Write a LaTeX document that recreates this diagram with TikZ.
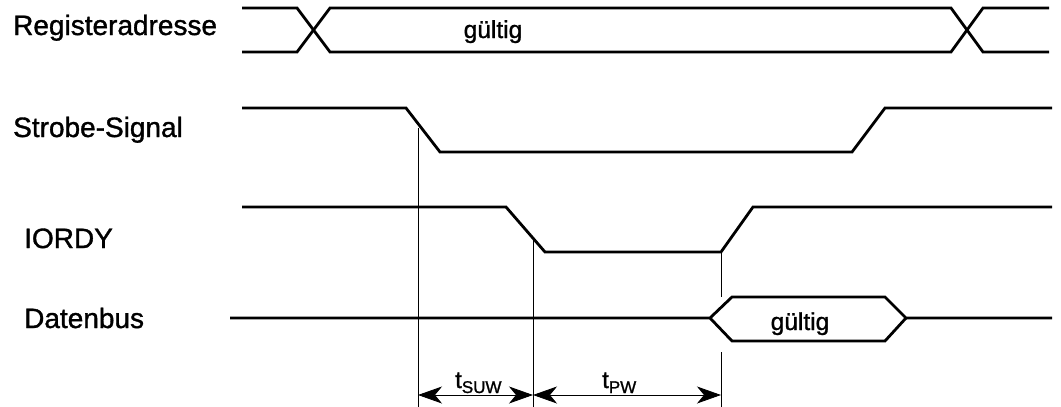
\documentclass[tikz,border=0pt]{standalone}
\usepackage{fontspec}
\setmainfont{Liberation Sans}[FakeBold=1.2]
\usetikzlibrary{arrows.meta}

\begin{document}
\begin{tikzpicture}[x=1pt, y=-1pt, sig/.style={line width=2.8pt, line join=miter}, guide/.style={line width=0.8pt}, dim/.style={line width=0.8pt, {Stealth[length=24pt,width=17pt,inset=7pt]}-{Stealth[length=24pt,width=17pt,inset=7pt]}}, lbl/.style={anchor=base west, inner sep=0pt, font=\fontsize{28}{30}\selectfont}, val/.style={anchor=base, inner sep=0pt, font=\fontsize{24.5}{26}\selectfont}, tlbl/.style={anchor=base west, inner sep=0pt, font=\fontsize{24}{26}\selectfont}]
  \useasboundingbox (0,0) rectangle (1061,407);
  % signal names
  \node[lbl](regadr) at (13,35){Registeradresse};
  \node[lbl](strobe) at (13,137){Strobe-Signal};
  \node[lbl](iordy) at (24,248){IORDY};
  \node[lbl](datenbus) at (24,328){Datenbus};
  % Registeradresse
  \draw[sig] (242,8) -- (297,8) -- (330,52) -- (951,52) -- (983,8) -- (1049,8);
  \draw[sig] (242,52) -- (297,52) -- (330,8) -- (951,8) -- (983,52) -- (1049,52);
  \node[val](regval) at (493,38){gültig};
  % Strobe-Signal
  \draw[sig] (242,108) -- (406,108) -- (440,152) -- (852,152) -- (885,108) -- (1052,108);
  % IORDY
  \draw[sig] (242,207) -- (506,207) -- (545,252) -- (721,252) -- (753,207) -- (1052,207);
  % Datenbus
  \draw[sig] (230,318) -- (710,318) -- (732,297) -- (885,297) -- (906,318) -- (1052,318);
  \draw[sig] (710,318) -- (732,341) -- (885,341) -- (906,318);
  \node[val](busval) at (800,330){gültig};
  % timing marks
  \coordinate (t0) at (418,395);
  \coordinate (t1) at (533,395);
  \coordinate (t2) at (721,395);
  \draw[guide] (418,128) -- (418,407);
  \draw[guide] (533,240) -- (533,407);
  \draw[guide] (721,252) -- (721,297) (721,352) -- (721,407);
  \draw[dim] (t0) -- (t1);
  \draw[dim] (t1) -- (t2);
  \node[tlbl](tsuw) at (455,388){t\raisebox{-5pt}{\fontsize{17}{17}\selectfont SUW}};
  \node[tlbl](tpw) at (602,388){t\raisebox{-5pt}{\fontsize{17}{17}\selectfont PW}};
\end{tikzpicture}
\end{document}
